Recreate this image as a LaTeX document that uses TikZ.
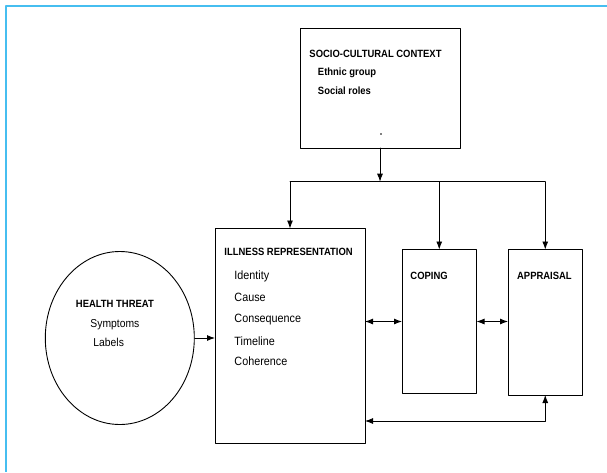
\documentclass[tikz,border=0pt]{standalone}
\usepackage{fontspec}
\setmainfont{Liberation Sans}[FakeStretch=0.9]
\usetikzlibrary{arrows.meta,shapes.geometric}
\definecolor{framecol}{RGB}{70,190,240}
\tikzset{
  box/.style={draw, anchor=north west, inner sep=0pt, outer sep=0pt},
  head/.style={font=\bfseries\fontsize{10.5}{12}\selectfont, anchor=base west, inner sep=0pt},
  item/.style={font=\fontsize{12}{14}\selectfont, anchor=base west, inner sep=0pt},
}
\begin{document}
\begin{tikzpicture}[x=1pt, y=-1pt, >={Latex[length=8pt,width=6pt]}, line width=0.9pt, line join=round, line cap=round]
\useasboundingbox (0,0) rectangle (607,472);
\draw[framecol, line width=2pt, line cap=butt] (607,6) -- (6,6) -- (6,472);
% boxes
\node[box, minimum width=160pt, minimum height=120pt] (socio) at (300,28) {};
\node[box, minimum width=150pt, minimum height=214.5pt] (illness) at (215,228.5) {};
\node[box, minimum width=74.5pt, minimum height=144pt] (coping) at (402,249.5) {};
\node[box, minimum width=74.5pt, minimum height=145.5pt] (appraisal) at (508,249.5) {};
\node[draw, ellipse, minimum width=149pt, minimum height=173pt, inner sep=0pt] (threat) at (119.8,338) {};
% texts
\node[head] (sociohead) at (309,57.3) {SOCIO-CULTURAL CONTEXT};
\node[head] (ethnic) at (317.5,75.5) {Ethnic group};
\node[head] (roles) at (317.5,94.5) {Social roles};
\fill (381,134) circle (0.8);
\node[head] (illhead) at (224,255) {ILLNESS REPRESENTATION};
\foreach \t/\y [count=\i] in {Identity/279.3,Cause/301,Consequence/322.3,Timeline/345,Coherence/365.7}
  \node[item] (ill\i) at (234,\y) {\t};
\node[head] (copehead) at (410,279.3) {COPING};
\node[head] (apphead) at (516.7,279.3) {APPRAISAL};
\node[head] (threathead) at (75.5,307) {HEALTH THREAT};
\node[item, font=\fontsize{11.5}{14}\selectfont] (symptoms) at (90,327.5) {Symptoms};
\node[item, font=\fontsize{11.5}{14}\selectfont] (labels) at (93,346.5) {Labels};
% connectors
\path (290,181.7) coordinate (busL) (545,181.7) coordinate (busR);
\path (appraisal.south) ++(0,26) coordinate (fb);
\draw[->] (socio.south) -- (socio.south |- busL);
\draw (busL) -- (busR);
\foreach \n in {illness,coping,appraisal} \draw[->] (\n.north |- busL) -- (\n.north);
\draw[->] (threat.east) -- (threat.east -| illness.west);
\draw[<->] (coping.west -| illness.east) -- (coping.west);
\draw[<->] (coping.east) -- (coping.east -| appraisal.west);
\draw[<->] (fb -| illness.east) -- (fb) -- (appraisal.south);
\end{tikzpicture}
\end{document}
